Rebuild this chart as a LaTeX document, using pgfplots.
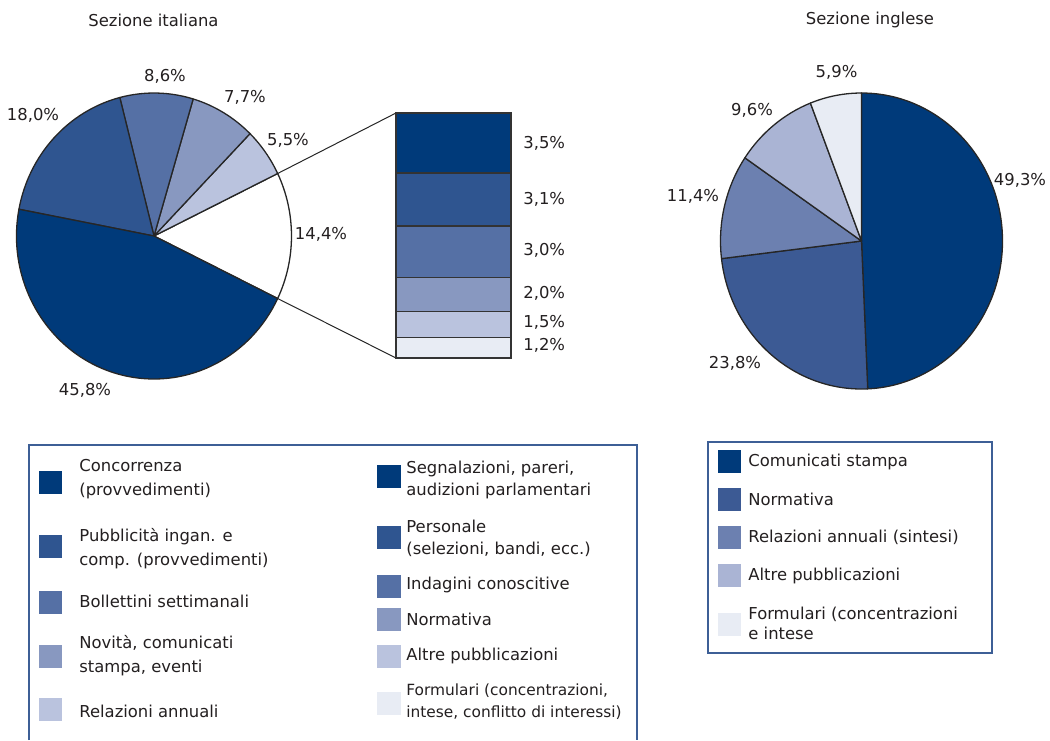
\documentclass[border=0pt]{standalone}
\usepackage{pgfplots}
\usepackage{pgfplotstable}
\pgfplotsset{compat=1.18}
\usepackage{fontspec}
\setmainfont{DejaVu Sans}

\definecolor{cA}{HTML}{003A7A}
\definecolor{cB}{HTML}{2F5590}
\definecolor{cC}{HTML}{5570A5}
\definecolor{cD}{HTML}{8898C0}
\definecolor{cE}{HTML}{BAC3DE}
\definecolor{cF}{HTML}{E8ECF4}
\definecolor{eB}{HTML}{3C5A94}
\definecolor{eC}{HTML}{6C80B0}
\definecolor{eD}{HTML}{AAB4D4}
\definecolor{frm}{HTML}{3D5F96}
\definecolor{txt}{HTML}{231F20}

% Sezione italiana (counter-clockwise from -25.92 deg)
\pgfplotstableread{
val col
14.4 white
5.5  cE
7.7  cD
8.6  cC
18.0 cB
45.8 cA
}\itpie
% Sezione inglese (clockwise from 90 deg)
\pgfplotstableread{
val col
49.3 cA
23.8 eB
11.4 eC
9.6  eD
5.9  cF
}\enpie

\newcommand\drawpie[7]{% table, cx, cy, rx(pt), ry(pt), start angle, direction
  \pgfplotstablegetrowsof{#1}%
  \pgfmathtruncatemacro\pielast{\pgfplotsretval-1}%
  \pgfmathsetmacro\piecum{#6}%
  \pgfplotsforeachungrouped \pieidx in {0,...,\pielast}{%
    \pgfplotstablegetelem{\pieidx}{val}\of{#1}\let\pieval\pgfplotsretval
    \pgfplotstablegetelem{\pieidx}{col}\of{#1}\let\piecol\pgfplotsretval
    \pgfmathsetmacro\pieend{\piecum+#7*3.6*\pieval}%
    \edef\piecmd{\noexpand\filldraw[fill=\piecol,draw=black!85,line width=0.65pt,line join=round] (axis cs:#2,#3) -- ++(\piecum:#4pt and #5pt) arc[start angle=\piecum,end angle=\pieend,x radius=#4pt,y radius=#5pt] -- cycle;}%
    \piecmd
    \global\let\piecum\pieend
  }%
}

\tikzset{lab/.style={font=\fontsize{8.2}{12}\selectfont, text=txt, inner sep=0pt}}

\begin{document}
\begin{tikzpicture}
\begin{axis}[x=0.5pt,y=0.5pt,xmin=0,xmax=1050,ymin=0,ymax=740,y dir=reverse,
  hide axis,clip=false,anchor=south west,at={(0,0)}]
\path (axis cs:0,0) rectangle (axis cs:1050,740);

% pies
\drawpie{\itpie}{154}{236}{68.75}{71.5}{-25.92}{1}
\drawpie{\enpie}{861.5}{241}{70.5}{74}{90}{-1}

% connector lines
\draw[black!85,line width=0.5pt] (axis cs:154,236) ++(25.92:68.75pt and 71.5pt) -- (axis cs:396,113);
\draw[black!85,line width=0.5pt] (axis cs:154,236) ++(-25.92:68.75pt and 71.5pt) -- (axis cs:396,358);

% titles
\node[lab] at (axis cs:153.5,20) {Sezione italiana};
\node[lab] at (axis cs:870,20) {Sezione inglese};

% pie labels
\node[lab] at (axis cs:165,76) {8,6\%};
\node[lab] at (axis cs:245,97) {7,7\%};
\node[lab] at (axis cs:33,115) {18,0\%};
\node[lab] at (axis cs:288,140) {5,5\%};
\node[lab] at (axis cs:321,234) {14,4\%};
\node[lab] at (axis cs:85,390) {45,8\%};

\node[lab] at (axis cs:836.5,72) {5,9\%};
\node[lab] at (axis cs:752,110) {9,6\%};
\node[lab] at (axis cs:693,196) {11,4\%};
\node[lab] at (axis cs:1020,180) {49,3\%};
\node[lab] at (axis cs:735,363) {23,8\%};

% bar labels
\node[lab,anchor=west] at (axis cs:523,143) {3,5\%};
\node[lab,anchor=west] at (axis cs:523,199) {3,1\%};
\node[lab,anchor=west] at (axis cs:523,250) {3,0\%};
\node[lab,anchor=west] at (axis cs:523,293) {2,0\%};
\node[lab,anchor=west] at (axis cs:523,322) {1,5\%};
\node[lab,anchor=west] at (axis cs:523,345) {1,2\%};

% legend frames
\draw[frm,line width=0.8pt] (axis cs:29,740) -- (axis cs:29,445) -- (axis cs:637,445) -- (axis cs:637,740);
\draw[frm,line width=0.8pt] (axis cs:708,442) rectangle (axis cs:992,653);

% left legend, column 1
\fill[cA] (axis cs:39,470.5) rectangle (axis cs:62,493.5);
\node[lab,anchor=west,align=left] at (axis cs:79,479) {Concorrenza\\(provvedimenti)};
\fill[cB] (axis cs:39,534.5) rectangle (axis cs:62,557.5);
\node[lab,anchor=west,align=left] at (axis cs:79,548.5) {Pubblicità ingan. e\\comp. (provvedimenti)};
\fill[cC] (axis cs:39,591) rectangle (axis cs:62,614);
\node[lab,anchor=west,align=left] at (axis cs:79,601) {Bollettini settimanali};
\fill[cD] (axis cs:39,644.5) rectangle (axis cs:62,667.5);
\node[lab,anchor=west,align=left] at (axis cs:79,655.5) {Novità, comunicati\\stampa, eventi};
\fill[cE] (axis cs:39,698) rectangle (axis cs:62,721);
\node[lab,anchor=west,align=left] at (axis cs:79,711) {Relazioni annuali};

% left legend, column 2
\fill[cA] (axis cs:377,464.5) rectangle (axis cs:401,487.5);
\node[lab,anchor=west,align=left,font=\fontsize{8.2}{11}\selectfont] at (axis cs:406,480) {Segnalazioni, pareri,\\audizioni parlamentari};
\fill[cB] (axis cs:377,526) rectangle (axis cs:401,549);
\node[lab,anchor=west,align=left,font=\fontsize{8.2}{11}\selectfont] at (axis cs:406,538) {Personale\\(selezioni, bandi, ecc.)};
\fill[cC] (axis cs:377,574.5) rectangle (axis cs:401,597.5);
\node[lab,anchor=west] at (axis cs:406,585) {Indagini conoscitive};
\fill[cD] (axis cs:377,608) rectangle (axis cs:401,631);
\node[lab,anchor=west] at (axis cs:406,619) {Normativa};
\fill[cE] (axis cs:377,644.5) rectangle (axis cs:401,667.5);
\node[lab,anchor=west] at (axis cs:406,656) {Altre pubblicazioni};
\fill[cF] (axis cs:377,692) rectangle (axis cs:401,715);
\node[lab,anchor=west,align=left,font=\fontsize{7.7}{11}\selectfont] at (axis cs:406,701.5) {Formulari (concentrazioni,\\intese, conflitto di interessi)};

% right legend
\fill[cA] (axis cs:718,450) rectangle (axis cs:741,473);
\node[lab,anchor=west] at (axis cs:748,462) {Comunicati stampa};
\fill[eB] (axis cs:718,487.5) rectangle (axis cs:741,510.5);
\node[lab,anchor=west] at (axis cs:748,499) {Normativa};
\fill[eC] (axis cs:718,526) rectangle (axis cs:741,549);
\node[lab,anchor=west] at (axis cs:748,537) {Relazioni annuali (sintesi)};
\fill[eD] (axis cs:718,563.5) rectangle (axis cs:741,586.5);
\node[lab,anchor=west] at (axis cs:748,576) {Altre pubblicazioni};
\fill[cF] (axis cs:718,612.5) rectangle (axis cs:741,635.5);
\node[lab,anchor=west,align=left,font=\fontsize{8.2}{10}\selectfont] at (axis cs:748,623) {Formulari (concentrazioni\\e intese};
\end{axis}

% detail bar of the 14.4% slice
\begin{axis}[at={(198pt,191pt)},anchor=south west,width=57.5pt,height=122.5pt,
  scale only axis,hide axis,clip=false,xmin=-0.5,xmax=0.5,ymin=0,ymax=14.3,
  ybar stacked,bar width=1]
\addplot[fill=cF,draw=black!80,line width=0.6pt] coordinates {(0,1.2)};
\addplot[fill=cE,draw=black!80,line width=0.6pt] coordinates {(0,1.5)};
\addplot[fill=cD,draw=black!80,line width=0.6pt] coordinates {(0,2.0)};
\addplot[fill=cC,draw=black!80,line width=0.6pt] coordinates {(0,3.0)};
\addplot[fill=cB,draw=black!80,line width=0.6pt] coordinates {(0,3.1)};
\addplot[fill=cA,draw=black!80,line width=0.6pt] coordinates {(0,3.5)};
\end{axis}
\end{tikzpicture}
\end{document}
